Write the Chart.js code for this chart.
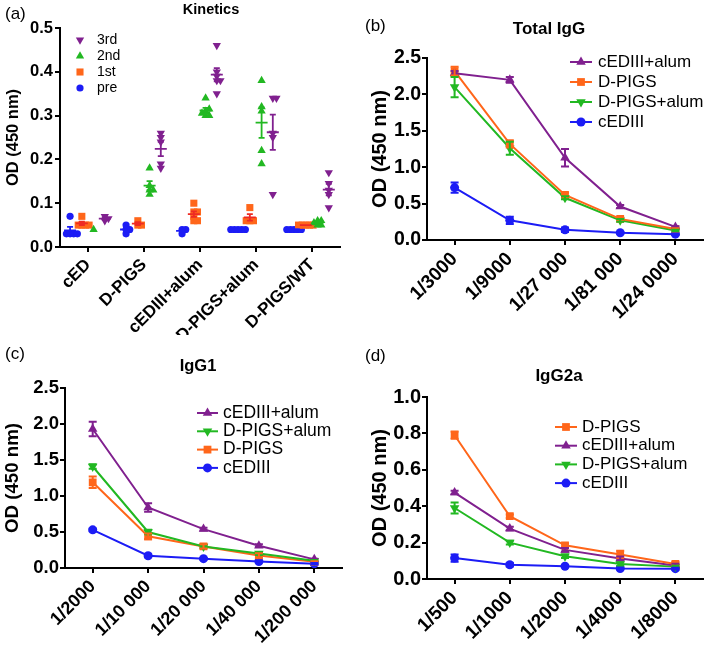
<!DOCTYPE html>
<html>
<head>
<meta charset="utf-8">
<script src="https://cdn.jsdelivr.net/npm/chart.js@4.4.1/dist/chart.umd.min.js"></script>
<style>
  body { margin: 0; background: #fff; }
  #wrap { position: relative; width: 709px; height: 650px; overflow: hidden; font-family: 'Liberation Sans', Arial, sans-serif; color: #000; }
  canvas { position: absolute; }
  .lbl { position: absolute; font-size: 17px; line-height: 1; white-space: nowrap; }
  .ttl { position: absolute; font-weight: bold; line-height: 1; white-space: nowrap; transform: translateX(-50%); }
</style>
</head>
<body>
<div id="wrap">
  <canvas id="chartA" width="350" height="335" style="left:0;top:0"></canvas>
  <canvas id="chartC" width="350" height="330" style="left:0;top:320px"></canvas>
  <canvas id="chartB" width="359" height="335" style="left:350px;top:0"></canvas>
  <canvas id="chartD" width="359" height="330" style="left:350px;top:320px"></canvas>
  <div class="lbl" style="left:5px;top:5px">(a)</div>
  <div class="lbl" style="left:365px;top:17px">(b)</div>
  <div class="lbl" style="left:5px;top:345px">(c)</div>
  <div class="lbl" style="left:365px;top:347px">(d)</div>
  <div class="ttl" style="left:211px;top:2px;font-size:14.5px">Kinetics</div>
  <div class="ttl" style="left:549px;top:20px;font-size:17px">Total IgG</div>
  <div class="ttl" style="left:198px;top:357px;font-size:16.5px">IgG1</div>
  <div class="ttl" style="left:559px;top:367px;font-size:17px">IgG2a</div>
</div>
<script>
// (a) kinetics, one array of values per group
const kinCats = ["cED", "D-PIGS", "cEDIII+alum", "D-PIGS+alum", "D-PIGS/WT"];
const preOD = [[0.07, 0.03, 0.03, 0.03, 0.03], [0.05, 0.04, 0.04, 0.03], [0.04, 0.04, 0.03], [0.04, 0.04, 0.04, 0.04, 0.04], [0.04, 0.04, 0.04, 0.04, 0.04]];
const firstOD = [[0.07, 0.05, 0.05, 0.05, 0.05], [0.06, 0.05, 0.05], [0.10, 0.08, 0.08, 0.07, 0.06, 0.06], [0.09, 0.06, 0.06, 0.06], [0.05, 0.05, 0.05, 0.05, 0.05]];
const secondOD = [[0.04], [0.18, 0.14, 0.13, 0.12, 0.13], [0.34, 0.315, 0.31, 0.305, 0.30, 0.30], [0.38, 0.32, 0.31, 0.22, 0.19], [0.06, 0.06, 0.055, 0.05, 0.05]];
const thirdOD = [[0.07, 0.065, 0.06], [0.26, 0.25, 0.24, 0.18, 0.19], [0.46, 0.40, 0.39, 0.38, 0.38, 0.35], [0.34, 0.34, 0.26, 0.25, 0.12], [0.17, 0.145, 0.13, 0.12, 0.09]];

// (b) total IgG
const dilB = ["1/3000", "1/9000", "1/27 000", "1/81 000", "1/24 0000"];
const totAlum = [2.29, 2.20, 1.13, 0.46, 0.18];
const totPigs = [2.32, 1.32, 0.62, 0.29, 0.15];
const totPigsAlum = [2.10, 1.26, 0.58, 0.27, 0.13];
const totCed = [0.72, 0.27, 0.14, 0.10, 0.08];
const totAlumErr = [0.03, 0.04, 0.12, 0.02, 0.01];
const totPigsErr = [0.06, 0.05, 0.03, 0.02, 0.01];
const totPigsAlumErr = [0.14, 0.09, 0.02, 0.02, 0.01];
const totCedErr = [0.07, 0.05, 0.03, 0.01, 0.01];

// (c) IgG1
const dilC = ["1/2000", "1/10 000", "1/20 000", "1/40 000", "1/200 000"];
const g1Alum = [1.93, 0.84, 0.54, 0.31, 0.12];
const g1PigsAlum = [1.41, 0.50, 0.30, 0.20, 0.10];
const g1Pigs = [1.19, 0.44, 0.30, 0.175, 0.085];
const g1Ced = [0.53, 0.17, 0.13, 0.09, 0.06];
const g1AlumErr = [0.10, 0.06, 0.02, 0.02, 0.01];
const g1PigsAlumErr = [0.03, 0.03, 0.02, 0.02, 0.01];
const g1PigsErr = [0.08, 0.04, 0.03, 0.03, 0.01];
const g1CedErr = [0.02, 0.02, 0.01, 0.01, 0.01];

// (d) IgG2a
const dilD = ["1/500", "1/1000", "1/2000", "1/4000", "1/8000"];
const g2Pigs = [0.79, 0.345, 0.185, 0.135, 0.083];
const g2Alum = [0.475, 0.277, 0.16, 0.113, 0.074];
const g2PigsAlum = [0.39, 0.20, 0.125, 0.082, 0.068];
const g2Ced = [0.115, 0.078, 0.07, 0.058, 0.057];
const g2PigsErr = [0.02, 0.01, 0.01, 0.02, 0.01];
const g2AlumErr = [0.01, 0.01, 0.01, 0.01, 0.01];
const g2PigsAlumErr = [0.03, 0.01, 0.01, 0.01, 0.005];
const g2CedErr = [0.02, 0.01, 0.005, 0.005, 0.005];

const PURPLE = "#80208f", GREEN = "#22b822", ORANGE = "#ff661a", BLUE = "#1c1cf5", RED = "#ee2a24";
const FONT = "'Liberation Sans', Arial, sans-serif";
Chart.defaults.font.family = FONT;
Chart.defaults.color = "#000";

function marker(ctx, style, x, y, r, rot) {
  ctx.beginPath();
  if (style === "circle") {
    ctx.arc(x, y, r, 0, Math.PI * 2);
  } else if (style === "rect") {
    const s = r * Math.SQRT1_2;
    ctx.rect(x - s, y - s, 2 * s, 2 * s);
  } else {
    let a = (rot || 0) * Math.PI / 180;
    for (let k = 0; k < 3; k++) {
      const px = x + Math.sin(a) * r, py = y - Math.cos(a) * r;
      k ? ctx.lineTo(px, py) : ctx.moveTo(px, py);
      a += Math.PI * 2 / 3;
    }
    ctx.closePath();
  }
  ctx.fill();
}

// legend drawn inside the plot
const legendRows = {
  id: "legendRows",
  afterDraw(chart, args, opts) {
    const ctx = chart.ctx;
    ctx.save();
    ctx.font = opts.size + "px " + FONT;
    ctx.textBaseline = "middle";
    chart.data.datasets.forEach((ds, i) => {
      const y = opts.y + i * opts.dy;
      const col = ds.pointBackgroundColor || ds.borderColor;
      ctx.strokeStyle = col;
      ctx.fillStyle = col;
      if (opts.line) {
        ctx.lineWidth = 2;
        ctx.beginPath();
        ctx.moveTo(opts.x, y);
        ctx.lineTo(opts.x + opts.line, y);
        ctx.stroke();
      }
      marker(ctx, ds.pointStyle, opts.x + (opts.line || 0) / 2, y, ds.pointRadius, ds.pointRotation);
      ctx.fillStyle = "#000";
      ctx.fillText(ds.label, opts.textX, y);
    });
    ctx.restore();
  }
};

function cap(ctx, x1, x2, y) {
  ctx.moveTo(x1, y);
  ctx.lineTo(x2, y);
}

// mean +- SEM for the scatter groups
const meanBars = {
  id: "meanBars",
  afterDatasetsDraw(chart) {
    const { ctx, scales: { x, y } } = chart;
    ctx.save();
    ctx.lineWidth = 1.8;
    chart.data.datasets.forEach((ds) => {
      ctx.strokeStyle = ds.meanColor;
      ds.groups.forEach((vals, i) => {
        const n = vals.length;
        if (n < 2) return;
        const m = vals.reduce((a, b) => a + b, 0) / n;
        const sd = Math.sqrt(vals.reduce((a, b) => a + (b - m) * (b - m), 0) / (n - 1));
        const se = sd / Math.sqrt(n);
        const cx = x.getPixelForValue(i + ds.shift);
        const ym = y.getPixelForValue(m), yt = y.getPixelForValue(m + se), yb = y.getPixelForValue(m - se);
        ctx.beginPath();
        cap(ctx, cx - 6, cx + 6, ym);
        cap(ctx, cx - 3, cx + 3, yt);
        cap(ctx, cx - 3, cx + 3, yb);
        ctx.moveTo(cx, yt);
        ctx.lineTo(cx, yb);
        ctx.stroke();
      });
    });
    ctx.restore();
  }
};

// error bars for the dilution curves
const errBars = {
  id: "errBars",
  afterDatasetsDraw(chart) {
    const { ctx, scales: { y } } = chart;
    ctx.save();
    ctx.lineWidth = 2;
    chart.data.datasets.forEach((ds, di) => {
      const meta = chart.getDatasetMeta(di);
      ctx.strokeStyle = ds.borderColor;
      meta.data.forEach((pt, i) => {
        const e = ds.errors[i];
        const yt = y.getPixelForValue(ds.data[i] + e), yb = y.getPixelForValue(ds.data[i] - e);
        ctx.beginPath();
        cap(ctx, pt.x - 4, pt.x + 4, yt);
        cap(ctx, pt.x - 4, pt.x + 4, yb);
        ctx.moveTo(pt.x, yt);
        ctx.lineTo(pt.x, yb);
        ctx.stroke();
      });
    });
    ctx.restore();
  }
};

// spread near-equal values sideways, like a column scatter
function swarm(groups, shift) {
  const pts = [];
  groups.forEach((vals, i) => {
    const placed = [];
    vals.slice().sort((a, b) => a - b).forEach((v) => {
      let dx = 0;
      for (let n = 0; n < 20; n++) {
        dx = n === 0 ? 0 : (n % 2 ? 1 : -1) * Math.ceil(n / 2) * 0.065;
        if (!placed.some((p) => Math.abs(p.y - v) < 0.009 && Math.abs(p.dx - dx) < 0.06)) break;
      }
      placed.push({ y: v, dx: dx });
      pts.push({ x: i + shift + dx, y: v });
    });
  });
  return pts;
}

function kinSet(label, groups, shift, color, meanColor, style, rot, r) {
  return {
    label: label, groups: groups, shift: shift, meanColor: meanColor,
    data: swarm(groups, shift),
    pointStyle: style, pointRotation: rot, pointRadius: r,
    pointBackgroundColor: color, pointBorderColor: color, pointBorderWidth: 0,
    showLine: false
  };
}

function axisStyle() {
  return {
    grid: { drawOnChartArea: false, color: "#000", lineWidth: 2, tickLength: 5 },
    border: { color: "#000", width: 2 }
  };
}

function yAxis(max, step, width, tickSize, titleSize, titlePad, tickPad) {
  return Object.assign(axisStyle(), {
    min: 0, max: max,
    afterFit: (s) => { s.width = width; },
    ticks: { stepSize: step, callback: (v) => v.toFixed(1), font: { size: tickSize, weight: "bold" }, padding: tickPad },
    title: { display: true, text: "OD (450 nm)", font: { size: titleSize, weight: "bold" }, padding: { top: titlePad, bottom: 0 } }
  });
}

new Chart(document.getElementById("chartA"), {
  type: "scatter",
  data: {
    datasets: [
      kinSet("3rd", thirdOD, 0.3, PURPLE, PURPLE, "triangle", 180, 4.8),
      kinSet("2nd", secondOD, 0.1, GREEN, GREEN, "triangle", 0, 4.8),
      kinSet("1st", firstOD, -0.11, ORANGE, RED, "rect", 0, 5),
      kinSet("pre", preOD, -0.32, BLUE, BLUE, "circle", 0, 3.6)
    ]
  },
  options: {
    responsive: false,
    animation: false,
    layout: { padding: { top: 28, right: 10, bottom: 0, left: 0 } },
    plugins: {
      legend: { display: false },
      tooltip: { enabled: false },
      legendRows: { x: 80, y: 40, dy: 16, textX: 97, size: 14 }
    },
    scales: {
      x: Object.assign(axisStyle(), {
        type: "linear", min: -0.5, max: 4.5,
        afterFit: (s) => { s.height = 88; },
        afterBuildTicks: (s) => { s.ticks = kinCats.map((c, i) => ({ value: i })); },
        ticks: { autoSkip: false, minRotation: 45, maxRotation: 45, callback: (v) => kinCats[v], font: { size: 17, weight: "bold" }, padding: 3 }
      }),
      y: yAxis(0.5, 0.1, 60, 16.5, 16.5, 4, 2)
    }
  },
  plugins: [meanBars, legendRows]
});

function curve(label, vals, errs, color, style, rot) {
  return {
    label: label, data: vals, errors: errs,
    borderColor: color, backgroundColor: color, borderWidth: 2,
    pointStyle: style, pointRotation: rot, pointRadius: style === "circle" ? 4.5 : 5.5,
    pointBackgroundColor: color, pointBorderColor: color, pointBorderWidth: 0,
    tension: 0
  };
}

function dilutionChart(id, cats, sets, o) {
  new Chart(document.getElementById(id), {
    type: "line",
    data: { labels: cats, datasets: sets },
    options: {
      responsive: false,
      animation: false,
      layout: { padding: { top: o.top, right: o.right, bottom: 0, left: 0 } },
      plugins: {
        legend: { display: false },
        tooltip: { enabled: false },
        legendRows: o.legend
      },
      scales: {
        x: Object.assign(axisStyle(), {
          offset: true,
          afterFit: (s) => { s.height = o.xH; },
          ticks: { autoSkip: false, minRotation: 45, maxRotation: 45, font: { size: o.xFont, weight: "bold" }, padding: 3 }
        }),
        y: yAxis(o.yMax, o.yStep, o.yW, o.yFont, o.titleFont, o.titlePad, 1)
      }
    },
    plugins: [errBars, legendRows]
  });
}

dilutionChart("chartB", dilB, [
  curve("cEDIII+alum", totAlum, totAlumErr, PURPLE, "triangle", 0),
  curve("D-PIGS", totPigs, totPigsErr, ORANGE, "rect", 0),
  curve("D-PIGS+alum", totPigsAlum, totPigsAlumErr, GREEN, "triangle", 180),
  curve("cEDIII", totCed, totCedErr, BLUE, "circle", 0)
], { top: 58, right: 6, xH: 95, yW: 77, yMax: 2.5, yStep: 0.5, xFont: 19, yFont: 19.5, titleFont: 20, titlePad: 18,
     legend: { x: 220, line: 22, textX: 248, y: 62, dy: 20, size: 17 } });

dilutionChart("chartC", dilC, [
  curve("cEDIII+alum", g1Alum, g1AlumErr, PURPLE, "triangle", 0),
  curve("D-PIGS+alum", g1PigsAlum, g1PigsAlumErr, GREEN, "triangle", 180),
  curve("D-PIGS", g1Pigs, g1PigsErr, ORANGE, "rect", 0),
  curve("cEDIII", g1Ced, g1CedErr, BLUE, "circle", 0)
], { top: 68, right: 8, xH: 82, yW: 65, yMax: 2.5, yStep: 0.5, xFont: 18, yFont: 18.5, titleFont: 18.7, titlePad: 2,
     legend: { x: 197, line: 21, textX: 223, y: 93, dy: 18.3, size: 17.5 } });

dilutionChart("chartD", dilD, [
  curve("D-PIGS", g2Pigs, g2PigsErr, ORANGE, "rect", 0),
  curve("cEDIII+alum", g2Alum, g2AlumErr, PURPLE, "triangle", 0),
  curve("D-PIGS+alum", g2PigsAlum, g2PigsAlumErr, GREEN, "triangle", 180),
  curve("cEDIII", g2Ced, g2CedErr, BLUE, "circle", 0)
], { top: 77, right: 6, xH: 71, yW: 77, yMax: 1.0, yStep: 0.2, xFont: 19, yFont: 20, titleFont: 20, titlePad: 18,
     legend: { x: 205, line: 22, textX: 232, y: 107, dy: 18.7, size: 17 } });
</script>
</body>
</html>
